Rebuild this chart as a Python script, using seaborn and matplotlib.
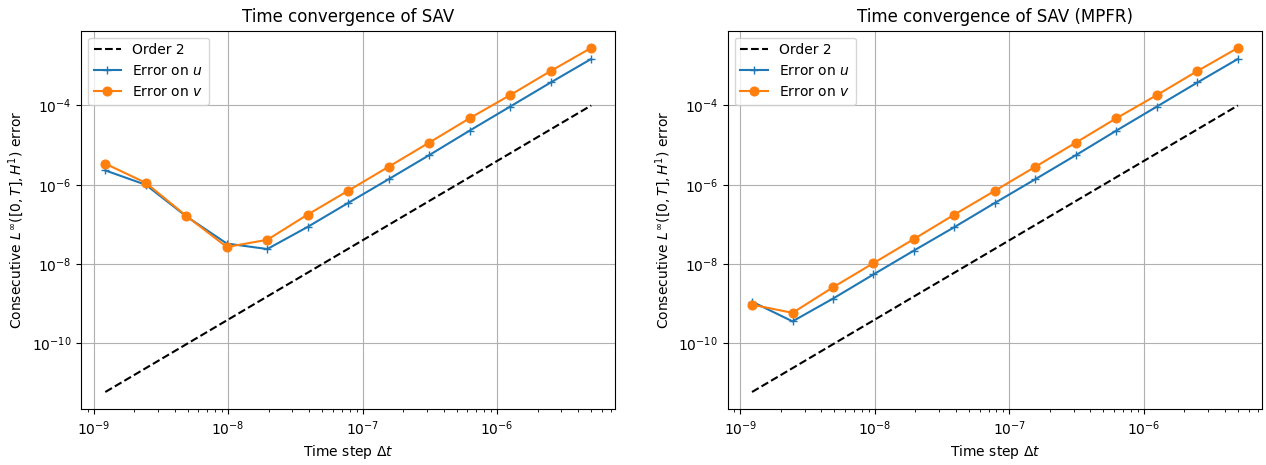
import matplotlib
matplotlib.use("Agg")
import matplotlib.pyplot as plt
from matplotlib.ticker import LogLocator, NullLocator
import seaborn as sns

# -----------------------------
# DATA
# -----------------------------
dt = [1.2207e-9, 2.4414e-9, 4.8828e-9, 9.7656e-9, 1.9531e-8, 3.9063e-8,
      7.8125e-8, 1.5625e-7, 3.125e-7, 6.25e-7, 1.25e-6, 2.5e-6, 5e-6]

order2 = [5.96e-12, 2.38e-11, 9.54e-11, 3.81e-10, 1.53e-9, 6.10e-9,
          2.44e-8, 9.77e-8, 3.91e-7, 1.56e-6, 6.25e-6, 2.5e-5, 1e-4]

# SAV
sav_u = [2.3e-6, 1.0e-6, 1.6e-7, 3.3e-8, 2.4e-8, 8.7e-8,
         3.5e-7, 1.39e-6, 5.6e-6, 2.33e-5, 9.4e-5, 3.8e-4, 1.49e-3]
sav_v = [3.4e-6, 1.12e-6, 1.64e-7, 2.7e-8, 4.1e-8, 1.78e-7,
         7.1e-7, 2.86e-6, 1.16e-5, 4.78e-5, 1.83e-4, 7.4e-4, 2.83e-3]

# SAV (MPFR)
mpfr_u = [1.13e-9, 3.6e-10, 1.35e-9, 5.5e-9, 2.2e-8, 8.6e-8,
          3.5e-7, 1.39e-6, 5.6e-6, 2.33e-5, 9.4e-5, 3.8e-4, 1.49e-3]
mpfr_v = [9.5e-10, 5.9e-10, 2.6e-9, 1.06e-8, 4.3e-8, 1.78e-7,
          7.1e-7, 2.86e-6, 1.16e-5, 4.78e-5, 1.83e-4, 7.4e-4, 2.83e-3]

titles = ["Time convergence of SAV", "Time convergence of SAV (MPFR)"]
errors = [(sav_u, sav_v), (mpfr_u, mpfr_v)]

# -----------------------------
# PLOT
# -----------------------------
fig, axes = plt.subplots(1, 2, figsize=(12.66, 4.65), dpi=100)
fig.subplots_adjust(left=0.064, right=0.997, bottom=0.12, top=0.934,
                    wspace=0.21)

for ax, title, (err_u, err_v) in zip(axes, titles, errors):
    sns.lineplot(x=dt, y=order2, ax=ax, color="k", linestyle="--",
                 label="Order 2")
    sns.lineplot(x=dt, y=err_u, ax=ax, color="C0", marker="+",
                 markeredgecolor="C0", markeredgewidth=1.0, markersize=6,
                 label=r"Error on $u$")
    sns.lineplot(x=dt, y=err_v, ax=ax, color="C1", marker="o",
                 markeredgecolor="C1", markersize=6.5, label=r"Error on $v$")
    ax.set_xscale("log")
    ax.set_yscale("log")
    ax.yaxis.set_major_locator(LogLocator(base=100))
    ax.yaxis.set_minor_locator(NullLocator())
    ax.grid(True)
    ax.set_title(title)
    ax.set_xlabel(r"Time step $\Delta t$")
    ax.set_ylabel(r"Consecutive $L^\infty([0,T],H^1)$ error")
    ax.legend(loc="upper left")

plt.savefig("out.png", dpi=100)
plt.close()
